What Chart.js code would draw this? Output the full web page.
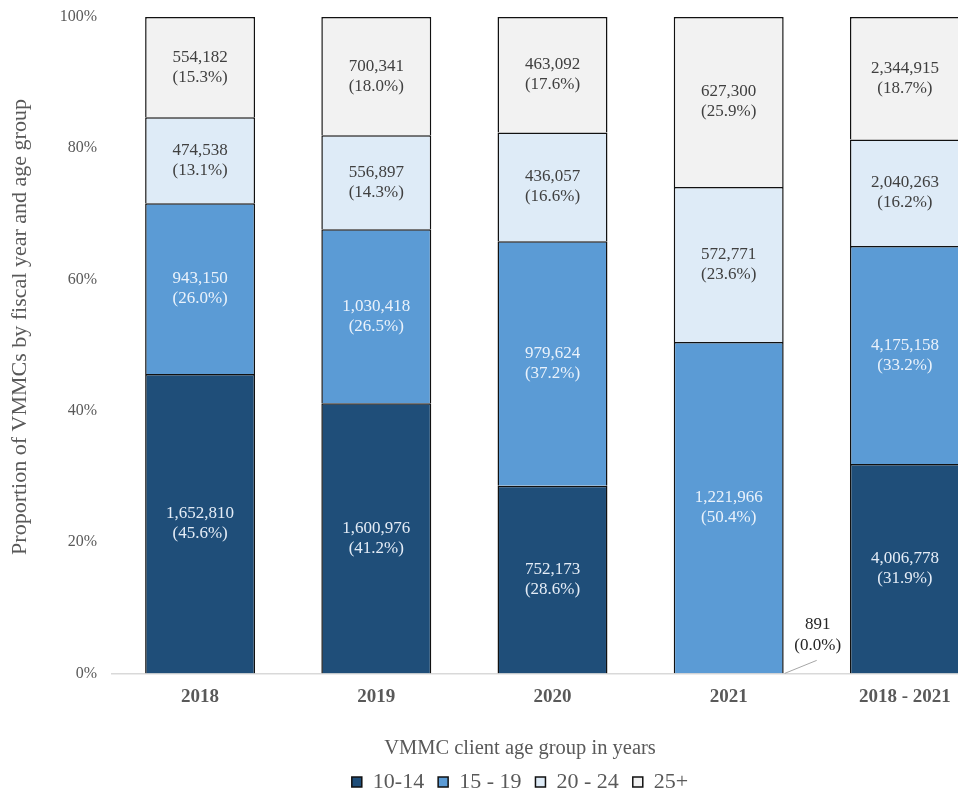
<!DOCTYPE html>
<html>
<head>
<meta charset="utf-8">
<script src="https://cdn.jsdelivr.net/npm/chart.js@4.4.1/dist/chart.umd.min.js"></script>
<style>
    html, body { margin: 0; padding: 0; background: #fff; overflow: hidden; }
    #wrap { position: relative; width: 1040px; height: 803px; }
</style>
</head>
<body>
<div id="wrap"><canvas id="vmmc-chart"></canvas></div>
<script>
// categories (fiscal years) and VMMC counts per age group
const years = ['2018', '2019', '2020', '2021', '2018 - 2021'];
const ageGroups = ['10-14', '15 - 19', '20 - 24', '25+'];

const count10to14 = [1652810, 1600976, 752173, 891, 4006778];
const count15to19 = [943150, 1030418, 979624, 1221966, 4175158];
const count20to24 = [474538, 556897, 436057, 572771, 2040263];
const count25plus = [554182, 700341, 463092, 627300, 2344915];

const yTicks = [0, 20, 40, 60, 80, 100];

const fills = ['#1f4e79', '#5b9bd5', '#deebf7', '#f2f2f2'];
const labelColors = ['#e4ecf6', '#eaf2fb', '#404040', '#404040'];
const FONT = '"Liberation Serif", "Times New Roman", serif';
const Y_TITLE = 'Proportion of VMMCs by fiscal year and age group';

const counts = [count10to14, count15to19, count20to24, count25plus];
const totals = years.map((y, i) => counts.reduce((s, c) => s + c[i], 0));
// share of each year's total, in percent
const shares = counts.map(c => c.map((v, i) => v / totals[i] * 100));

const segLabels = {
    id: 'segLabels',
    afterDatasetsDraw(chart) {
        const ctx = chart.ctx;
        ctx.save();
        ctx.font = '17px ' + FONT;
        ctx.textAlign = 'center';
        ctx.textBaseline = 'middle';
        chart.data.datasets.forEach((ds, di) => {
            chart.getDatasetMeta(di).data.forEach((bar, i) => {
                const line1 = counts[di][i].toLocaleString('en-US');
                const line2 = '(' + shares[di][i].toFixed(1) + '%)';
                const h = Math.abs(bar.base - bar.y);
                if (h < 25) {
                    // too thin: label outside with a leader line
                    const right = bar.x + bar.width / 2;
                    ctx.strokeStyle = '#a6a6a6';
                    ctx.lineWidth = 1;
                    ctx.beginPath();
                    ctx.moveTo(right + 1, bar.base);
                    ctx.lineTo(right + 33, bar.base - 13);
                    ctx.stroke();
                    ctx.fillStyle = '#262626';
                    ctx.fillText(line1, bar.x + 89, bar.base - 49);
                    ctx.fillText(line2, bar.x + 89, bar.base - 28);
                } else {
                    const cy = (bar.y + bar.base) / 2;
                    ctx.fillStyle = labelColors[di];
                    ctx.fillText(line1, bar.x, cy - 10);
                    ctx.fillText(line2, bar.x, cy + 10);
                }
            });
        });
        ctx.restore();
    }
};

// vertical axis title, sits a little above the plot's middle in the original
const yTitle = {
    id: 'yTitle',
    afterDraw(chart) {
        const ctx = chart.ctx;
        ctx.save();
        ctx.translate(20, chart.chartArea.top + 310);
        ctx.rotate(-Math.PI / 2);
        ctx.font = '22px ' + FONT;
        ctx.fillStyle = '#595959';
        ctx.textAlign = 'center';
        ctx.textBaseline = 'middle';
        ctx.fillText(Y_TITLE, 0, 0);
        ctx.restore();
    }
};

const ctx = document.getElementById('vmmc-chart').getContext('2d');

const chart = new Chart(ctx, {
    type: 'bar',
    data: {
        labels: years,
        datasets: ageGroups.map((g, k) => ({
            label: g,
            data: shares[k],
            backgroundColor: fills[k],
            borderColor: '#111',
            borderWidth: 1.5,
            categoryPercentage: 1,
            barPercentage: 0.624
        }))
    },
    options: {
        responsive: true,
        maintainAspectRatio: false,
        animation: false,
        layout: {
            padding: { left: 0, right: 0, top: 17, bottom: 0 }
        },
        scales: {
            x: {
                stacked: true,
                grid: { display: false, drawTicks: false },
                border: { display: true, color: '#d9d9d9', width: 1.5 },
                ticks: {
                    color: '#595959',
                    padding: 12,
                    font: { family: FONT, size: 19, weight: 'bold' }
                },
                afterFit: (scale) => { scale.height = 40; }
            },
            y: {
                stacked: true,
                min: 0,
                max: 100,
                afterBuildTicks: (scale) => { scale.ticks = yTicks.map(v => ({ value: v })); },
                grid: { display: false, drawTicks: false },
                border: { display: false },
                ticks: {
                    color: '#595959',
                    padding: 15,
                    font: { family: FONT, size: 16 },
                    callback: (v) => v + '%'
                },
                afterFit: (scale) => {
                    scale.width = 112;
                    scale.paddingTop = 0;
                    scale.paddingBottom = 0;
                }
            },
            // empty right-hand axis, only keeps room so the last bar runs off the edge
            yPad: {
                position: 'right',
                grid: { display: false, drawTicks: false },
                border: { display: false },
                ticks: { display: false },
                afterFit: (scale) => {
                    scale.width = 47;
                    scale.paddingTop = 0;
                    scale.paddingBottom = 0;
                }
            }
        },
        plugins: {
            title: {
                display: true,
                position: 'bottom',
                weight: 500,
                text: 'VMMC client age group in years',
                color: '#595959',
                font: { family: FONT, size: 20.5, weight: 'normal' },
                padding: { top: 23, bottom: -4 }
            },
            legend: {
                position: 'bottom',
                labels: {
                    color: '#595959',
                    boxWidth: 10,
                    boxHeight: 10,
                    padding: 14,
                    font: { family: FONT, size: 22 }
                }
            },
            tooltip: { enabled: false }
        }
    },
    plugins: [segLabels, yTitle]
});
</script>
</body>
</html>
